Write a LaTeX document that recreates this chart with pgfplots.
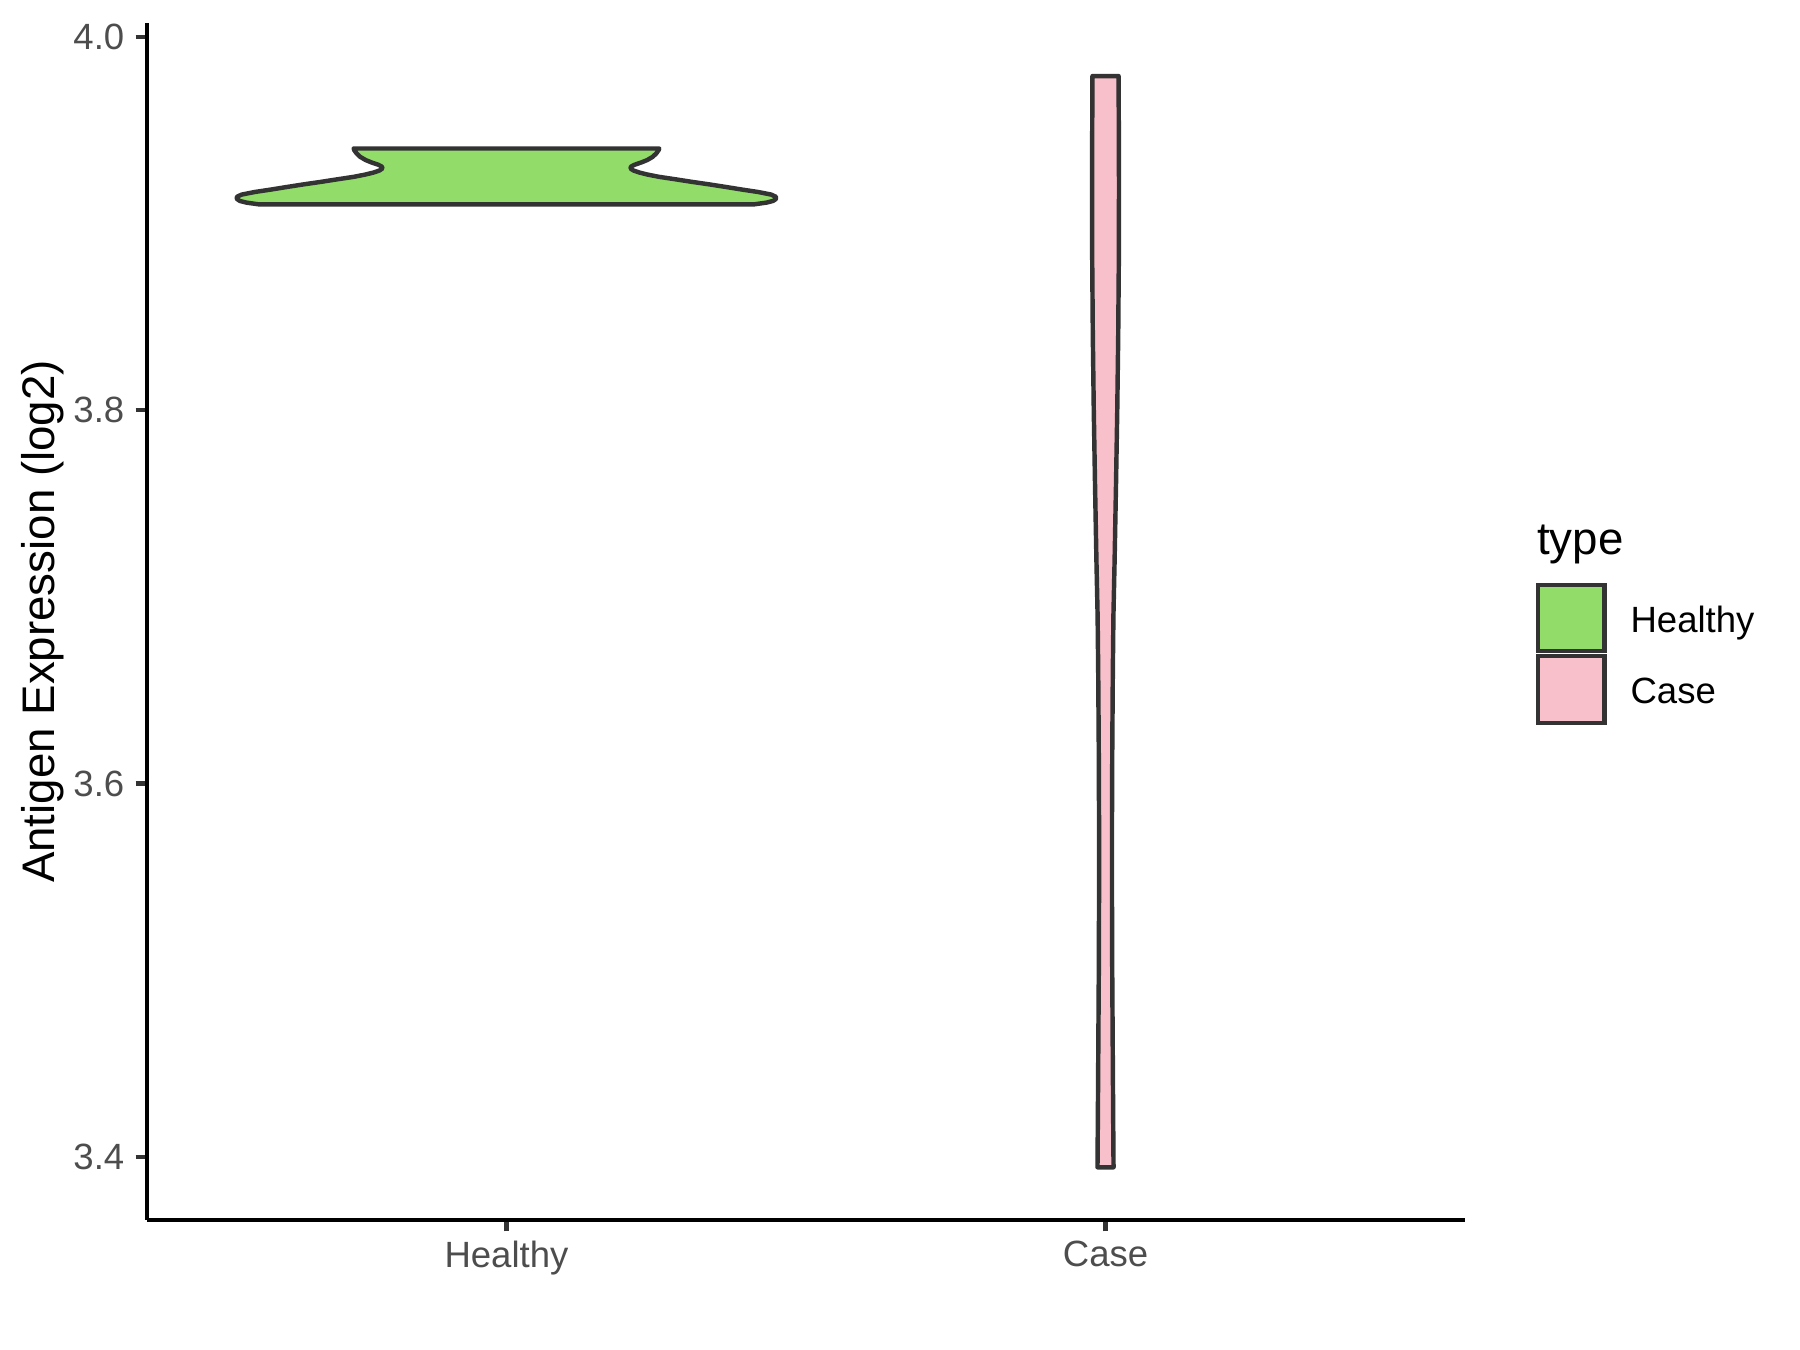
\documentclass[border=0pt]{standalone}
\usepackage{fontspec}
\setmainfont{Liberation Sans}
\usepackage{pgfplots}
\pgfplotsset{compat=1.18}
\definecolor{healthyfill}{RGB}{146,220,106}
\definecolor{casefill}{RGB}{248,192,203}
\definecolor{outline}{HTML}{333333}
\definecolor{ticklab}{HTML}{4D4D4D}
\begin{document}
\begin{tikzpicture}
\path[use as bounding box] (-35.41pt,-31.32pt) rectangle (398.21pt,293.88pt);
\begin{axis}[
  at={(0pt,0pt)}, anchor=south west, scale only axis,
  width=317.5pt, height=288.34pt,
  xmin=0.4, xmax=2.6, ymin=3.3663, ymax=4.0074,
  axis lines=left,
  axis line style={-, line width=1.07pt, black},
  xtick={1,2}, xticklabels={Healthy,Case},
  ytick={3.4,3.6,3.8,4.0},
  yticklabel style={/pgf/number format/fixed, /pgf/number format/fixed zerofill, /pgf/number format/precision=1, xshift=0.8pt},
  xticklabel style={yshift=1.1pt},
  /pgf/number format/assume math mode=true,
  tick align=outside, major tick length=2.75pt,
  tick style={line width=1.07pt, color=outline},
  ticklabel style={font=\fontsize{8.8}{10}\selectfont, text=ticklab},
  ylabel={Antigen Expression (log2)},
  ylabel style={at={(rel axis cs:-0.0794,0.5)}, anchor=center, font=\fontsize{11}{13}\selectfont, text=black},
  clip=false,
]
\addplot[fill=healthyfill, draw=outline, line width=1.07pt, line join=round] coordinates {
(1.414,3.9103) (1.434,3.9112) (1.445,3.9121) (1.450,3.9132) (1.450,3.9143) (1.442,3.9155) (1.420,3.9169) (1.393,3.9182) (1.366,3.9196) (1.338,3.9210) (1.310,3.9223) (1.282,3.9237) (1.255,3.9250) (1.236,3.9262) (1.222,3.9273) (1.212,3.9284) (1.207,3.9295) (1.208,3.9305) (1.214,3.9315) (1.225,3.9327) (1.235,3.9340) (1.244,3.9357) (1.250,3.9375) (1.254,3.9393) (1.255,3.9402)
(0.745,3.9402) (0.746,3.9393) (0.750,3.9375) (0.756,3.9357) (0.765,3.9340) (0.775,3.9327) (0.786,3.9315) (0.792,3.9305) (0.793,3.9295) (0.788,3.9284) (0.778,3.9273) (0.764,3.9262) (0.745,3.9250) (0.718,3.9237) (0.690,3.9223) (0.662,3.9210) (0.634,3.9196) (0.607,3.9182) (0.580,3.9169) (0.558,3.9155) (0.550,3.9143) (0.550,3.9132) (0.555,3.9121) (0.566,3.9112) (0.586,3.9103)
} -- cycle;
\addplot[fill=casefill, draw=outline, line width=1.07pt, line join=round] coordinates {
(2.0134,3.3945) (2.0128,3.42) (2.0120,3.46) (2.0112,3.50) (2.0108,3.54) (2.0108,3.58) (2.0113,3.62) (2.0122,3.66) (2.0132,3.69) (2.0152,3.72) (2.0175,3.76) (2.0196,3.80) (2.0212,3.84) (2.0222,3.88) (2.0225,3.92) (2.0222,3.95) (2.0218,3.979)
(1.9782,3.979) (1.9778,3.95) (1.9775,3.92) (1.9778,3.88) (1.9788,3.84) (1.9804,3.80) (1.9825,3.76) (1.9848,3.72) (1.9868,3.69) (1.9878,3.66) (1.9887,3.62) (1.9892,3.58) (1.9892,3.54) (1.9888,3.50) (1.9880,3.46) (1.9872,3.42) (1.9866,3.3945)
} -- cycle;
\end{axis}
\node[anchor=base west, inner sep=0pt, font=\fontsize{11}{13}\selectfont] at (334.7pt,160.2pt) {type};
\draw[fill=healthyfill, draw=outline, line width=1.07pt] (335.1pt,137.0pt) rectangle (351.1pt,153.0pt);
\draw[fill=casefill, draw=outline, line width=1.07pt] (335.1pt,119.7pt) rectangle (351.1pt,135.8pt);
\node[anchor=base west, inner sep=0pt, font=\fontsize{8.8}{10}\selectfont] at (357.2pt,141.4pt) {Healthy};
\node[anchor=base west, inner sep=0pt, font=\fontsize{8.8}{10}\selectfont] at (357.2pt,124.3pt) {Case};
\end{tikzpicture}
\end{document}
